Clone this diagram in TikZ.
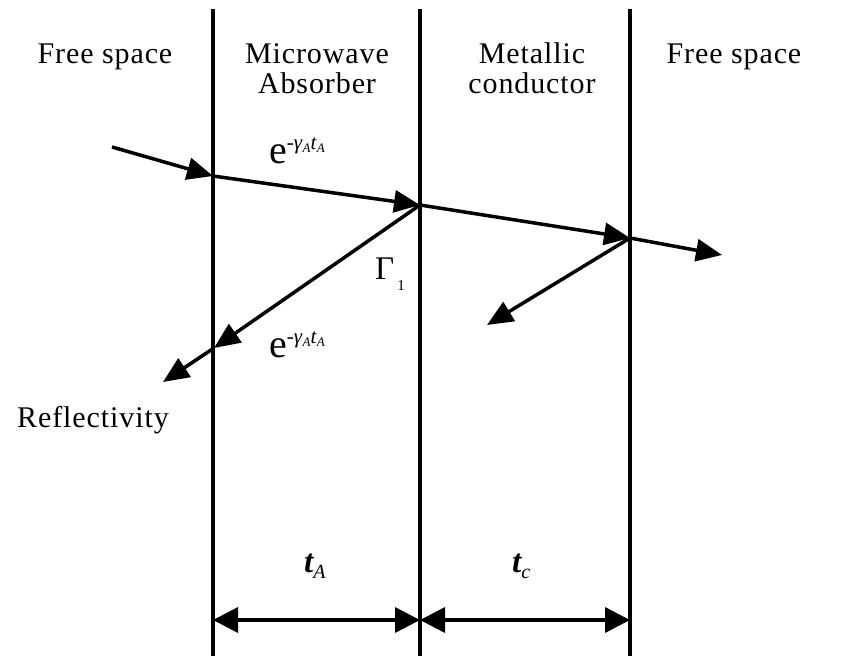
\documentclass[tikz,border=0pt]{standalone}
\usepackage{fontspec}
\setmainfont{Liberation Serif}
\newfontfamily\lblfont[LetterSpace=3]{Liberation Serif}
\usetikzlibrary{arrows.meta}
\begin{document}
\begin{tikzpicture}[x=1pt,y=-1pt,
  wall/.style={line width=3.5pt},
  ray/.style={line width=3.5pt,-{Triangle[length=26pt,width=22pt]}},
  dim/.style={line width=3.5pt,{Triangle[length=25pt,width=25pt]}-{Triangle[length=25pt,width=25pt]}},
  lbl/.style={inner sep=0pt,anchor=base,align=center,font=\lblfont\fontsize{30}{30}\selectfont},
  expo/.style={inner sep=0pt,anchor=base west}
]
\useasboundingbox (0,0) rectangle (847,662);
% walls
\coordinate (w1t) at (213,9);  \coordinate (w1b) at (213,656);
\coordinate (w2t) at (420,9);  \coordinate (w2b) at (420,656);
\coordinate (w3t) at (630,9);  \coordinate (w3b) at (630,656);
\draw[wall] (w1t) -- (w1b);
\draw[wall] (w2t) -- (w2b);
\draw[wall] (w3t) -- (w3b);
% region labels
\node[lbl] (fs1) at (105,63) {Free space};
\node[lbl] (mwa) at (317,93) {Microwave\\Absorber};
\node[lbl] (mc) at (532,93) {Metallic\\conductor};
\node[lbl] (fs2) at (734,63) {Free space};
\node[lbl] (refl) at (93,427) {Reflectivity};
% ray points
\coordinate (p0) at (112,147);
\coordinate (p1) at (213,176);
\coordinate (p2) at (420,205);
\coordinate (p3) at (630,238);
\coordinate (p4) at (722,255);
\coordinate (r1) at (214,348);
\coordinate (r2) at (163,382);
\coordinate (m1) at (487,325);
\draw[ray] (p0) -- (p1);
\draw[ray] (p1) -- (p2);
\draw[ray] (p2) -- (p3);
\draw[ray] (p3) -- (p4);
\draw[ray] (p2) -- (r1);
\draw[ray] (r1) -- (r2);
\draw[ray] (p3) -- (m1);
% attenuation labels
\newcommand{\attn}{{\fontsize{40}{40}\selectfont e}\raisebox{14pt}{\fontsize{21}{21}\selectfont -\textit{γ}\raisebox{-3pt}{\fontsize{13}{13}\selectfont\textit{A}}\textit{t}\raisebox{-3pt}{\fontsize{13}{13}\selectfont\textit{A}}}}
\node[expo] (a1) at (269,163) {\attn};
\node[expo] (a2) at (269,357) {\attn};
\node[expo] (g1) at (375,279) {{\fontsize{33}{33}\selectfont Γ}\hspace{3pt}\raisebox{-11pt}{\fontsize{15}{15}\selectfont 1}};
% thickness labels
\node[expo] (tA) at (304,572) {{\fontsize{33}{33}\selectfont\bfseries\itshape t}\raisebox{-6pt}{\fontsize{20}{20}\selectfont\itshape A}};
\node[expo] (tc) at (512,572) {{\fontsize{33}{33}\selectfont\bfseries\itshape t}\raisebox{-6pt}{\fontsize{20}{20}\selectfont\itshape c}};
% dimension arrows
\coordinate (d1) at (213,620);
\coordinate (d2) at (420,620);
\coordinate (d3) at (630,620);
\draw[dim] (d1) -- (d2);
\draw[dim] (d2) -- (d3);
\end{tikzpicture}
\end{document}
